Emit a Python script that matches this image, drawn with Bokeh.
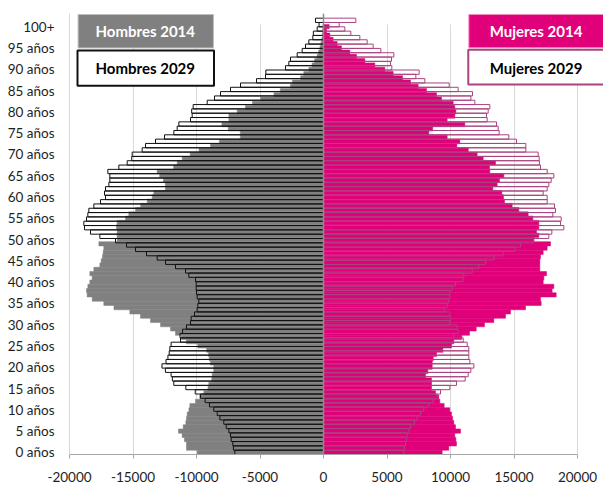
from bokeh.plotting import figure
from bokeh.models import Range1d, FixedTicker, BoxAnnotation, Label, Span
from bokeh.embed import file_html
from bokeh.resources import INLINE

ages = list(range(101))

hombres_2014 = [
    -9950, -10790, -10790, -10950, -11130, -11420, -11050, -10840, -10790, -10735,
    -10600, -10525, -10080, -9740, -9420, -9100, -9030, -8800, -8770, -8640,
    -8640, -8900, -9000, -9050, -9200, -9900, -10800, -11200, -11654, -12047,
    -12835, -13622, -14410, -15250, -16500, -17300, -18215, -18610, -18660, -18556,
    -18400, -18215, -18400, -18084, -17612, -17507, -17400, -17350, -17297, -17690,
    -16250, -16250, -16250, -16300, -16250, -15590, -15330, -14800, -14400, -13880,
    -13490, -13360, -12450, -12450, -12600, -12900, -13100, -11800, -11520, -11128,
    -10500, -9800, -8900, -8200, -6550, -6550, -7500, -8000, -7450, -7450,
    -6800, -6150, -5600, -4950, -3900, -3400, -2600, -2450, -1800, -1550,
    -1150, -900, -700, -500, -380, -280, -200, -130, -90, -60,
    -50,
]
hombres_2029 = [
    -6980, -7090, -7140, -7270, -7320, -7450, -7660, -7850, -8160, -8370,
    -8640, -8980, -9320, -9690, -10100, -10840, -11790, -11900, -12000, -12450,
    -12720, -12400, -12250, -12150, -12100, -12000, -11260, -11300, -11100, -10790,
    -10470, -10420, -10160, -9950, -9895, -9816, -9948, -10000, -10026, -10026,
    -10079, -10604, -10866, -11654, -12441, -13097, -13937, -14803, -15512, -16378,
    -17612, -18346, -18819, -18871, -18661, -18556, -18478, -18084, -17558, -17165,
    -17244, -17165, -16900, -16825, -16825, -16982, -16115, -15459, -15100, -15066,
    -14279, -14016, -13228, -12520, -11785, -11522, -11390, -10472, -10341, -10380,
    -10262, -9160, -8583, -8110, -7323, -6535, -5276, -4567, -4540, -2992,
    -2730, -2598, -2073, -1680, -1417, -1155, -840, -800, -500, -350,
    -630,
]
mujeres_2014 = [
    9343, 9868, 10472, 10420, 10341, 10787, 10393, 10262, 10157, 10079,
    9948, 9500, 9160, 9081, 8819, 8505, 8505, 8505, 8032, 8216,
    8557, 8557, 8636, 8898, 9396, 10079, 10262, 10893, 11496, 12021,
    12677, 13412, 14331, 14725, 15906, 17139, 17086, 18320, 18000, 18137,
    17296, 17349, 17559, 17034, 17034, 17034, 17086, 17296, 17612, 17874,
    16562, 16955, 16772, 16955, 16955, 16483, 16115, 15380, 14856, 14252,
    14173, 14042, 13333, 13675, 13858, 14200, 13097, 13071, 13543, 12572,
    12100, 11400, 10500, 10735, 9737, 8294, 8600, 11128, 9737, 10341,
    10420, 10341, 10210, 9291, 8898, 8110, 7454, 6850, 6221, 5486,
    4829, 4042, 3254, 2598, 2073, 1417, 1076, 760, 500, 236,
    446,
]
mujeres_2029 = [
    6320, 6378, 6456, 6535, 6587, 6719, 6850, 7165, 7375, 7638,
    7900, 8295, 8636, 8950, 9213, 9948, 10472, 11155, 11391, 11600,
    11838, 11522, 11443, 11443, 11443, 11312, 11000, 10262, 10604, 10525,
    9948, 10026, 9948, 9501, 9737, 9868, 9947, 9947, 10131, 10394,
    10970, 11050, 11706, 12231, 12756, 13412, 14147, 15066, 15512, 16562,
    17743, 17979, 18924, 18661, 18714, 18058, 18268, 18189, 17612, 17612,
    17296, 17612, 17743, 17926, 18137, 17612, 17086, 17000, 16982, 16903,
    15932, 15932, 15197, 14593, 13832, 13753, 13622, 12887, 12835, 12966,
    13097, 11917, 11602, 11733, 10603, 9895, 7979, 7270, 7533, 5380,
    5276, 5354, 5538, 4514, 3910, 3438, 2860, 2152, 1680, 1233,
    2546,
]

x_ticks = list(range(-20000, 20001, 5000))
y_ticks = list(range(0, 101, 5))
y_tick_labels = [f"{a} años" for a in y_ticks[:-1]] + ["100+"]
legend_names = ["Hombres 2014", "Hombres 2029", "Mujeres 2014", "Mujeres 2029"]

GRAY = "#808080"
MAGENTA = "#E0007A"
PURPLE = "#A8457F"
FONT = "Lato"

p = figure(width=603, height=489, output_backend="svg", toolbar_location=None,
           x_range=Range1d(-20000, 22046), y_range=Range1d(-0.5, 103.1),
           min_border_left=69, min_border_right=0, min_border_top=13,
           min_border_bottom=35)
p.extra_y_ranges = {"y2029": Range1d(-0.5, 101.58)}
p.outline_line_color = None
p.background_fill_color = "white"

# hide grid lines above the chart's top
p.add_layout(BoxAnnotation(bottom=100.5, fill_color="white", fill_alpha=1,
                           line_color=None, level="underlay"))

p.hbar(y=ages, left=hombres_2014, right=0, height=1.0, fill_color=GRAY,
       line_color=GRAY, line_width=0.5)
p.hbar(y=ages, left=0, right=mujeres_2014, height=1.0, fill_color=MAGENTA,
       line_color=MAGENTA, line_width=0.5)
p.hbar(y=ages, left=hombres_2029, right=0, height=1.0, fill_color=None,
       line_color="#111111", line_width=1, y_range_name="y2029")
p.hbar(y=ages, left=0, right=mujeres_2029, height=1.0, fill_color=None,
       line_color=PURPLE, line_width=1, y_range_name="y2029")

p.add_layout(Span(location=0, dimension="height", line_color="#8c8c8c", line_width=1.5))

# axes
p.xaxis.ticker = FixedTicker(ticks=x_ticks)
p.xaxis.major_label_overrides = {t: str(t) for t in x_ticks}
p.xaxis.bounds = (-20000, 20000)
p.yaxis.ticker = FixedTicker(ticks=y_ticks)
p.yaxis.major_label_overrides = dict(zip(y_ticks, y_tick_labels))
p.ygrid.visible = False
p.xgrid.grid_line_color = "#d9d9d9"
p.xgrid.grid_line_width = 1

for ax in (p.xaxis, p.yaxis):
    ax.major_label_text_font = FONT
    ax.major_label_text_font_size = "13.5px"
    ax.major_label_text_color = "#1e1e1e"
    ax.minor_tick_line_color = None
p.xaxis.axis_line_color = "#a6a6a6"
p.xaxis.major_tick_line_color = "#a6a6a6"
p.xaxis.major_tick_out = 4
p.xaxis.major_tick_in = 0
p.xaxis.major_label_standoff = 13
p.yaxis.axis_line_color = "#d9d9d9"
p.yaxis.major_tick_line_color = None
p.yaxis.major_tick_out = 0
p.yaxis.major_label_standoff = 15

# legend boxes
boxes = [
    (-19323, -8669, 102.86, 95.0, GRAY, "#bfbfbf", 1, "white", -14035, 98.9),
    (-19370, -8621, 94.4, 86.1, "white", "#111111", 2, "black", -14035, 90.2),
    (11445, 22100, 102.86, 95.05, MAGENTA, "#f08cc0", 1, "white", 16733, 98.9),
    (11398, 22100, 94.57, 86.4, "white", PURPLE, 2, "black", 16733, 90.2),
]
for name, (l, r, t, b, fc, lc, lw, tc, tx, ty) in zip(legend_names, boxes):
    p.add_layout(BoxAnnotation(left=l, right=r, top=t, bottom=b, fill_color=fc,
                               fill_alpha=1, line_color=lc, line_width=lw,
                               line_alpha=1))
    p.add_layout(Label(x=tx, y=ty, text=name, text_align="center",
                       text_baseline="middle", text_font=FONT,
                       text_font_style="bold", text_font_size="15px",
                       text_color=tc))

open("out.html", "w").write(file_html(p, INLINE))
